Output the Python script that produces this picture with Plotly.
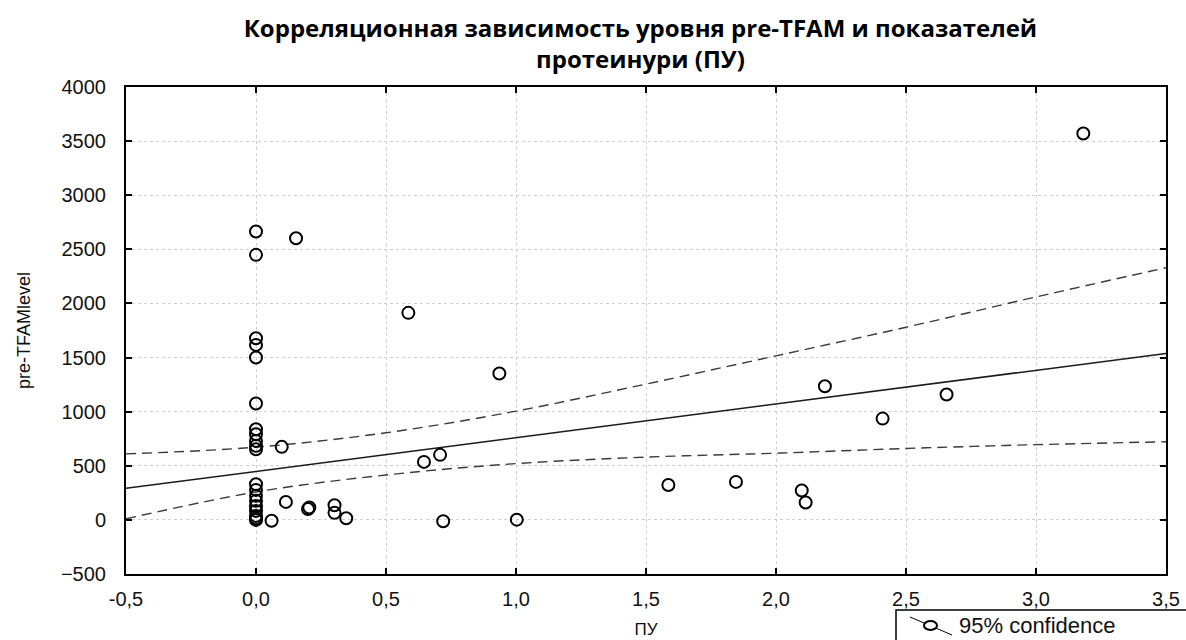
import plotly.graph_objects as go

# Proteinuria (ПУ) and pre-TFAM level per patient
pu = [0.0, 0.0, 0.0, 0.0, 0.0, 0.0, 0.0, 0.0, 0.0, 0.0,
      0.0, 0.0, 0.0, 0.0, 0.0, 0.0, 0.0, 0.0, 0.0, 0.0,
      0.154, 0.099, 0.115, 0.200, 0.205, 0.060, 0.302, 0.302, 0.347,
      0.646, 0.708, 0.720, 1.003, 0.586, 0.936, 1.586, 1.846,
      2.099, 2.114, 2.188, 2.410, 2.656, 3.182]
tfam = [2665, 2449, 1679, 1617, 1500, 1075, 838, 792, 730, 684,
        653, 330, 277, 222, 176, 129, 83, 37, 15, 0,
        2603, 675, 166, 100, 115, -8, 135, 65, 15,
        536, 601, -12, 2, 1913, 1352, 323, 351,
        271, 160, 1235, 936, 1158, 3570]

# Linear fit and its 95% confidence band
fit_x = [-0.5, 3.5]
fit_y = [292, 1538]
band_x = [-0.5, 0.0, 0.5, 1.0, 1.5, 2.0, 2.5, 3.0, 3.5]
band_upper = [610, 672, 805, 1005, 1255, 1516, 1780, 2060, 2330]
band_lower = [10, 258, 415, 520, 580, 616, 660, 695, 722]

x_ticks = [-0.5, 0.0, 0.5, 1.0, 1.5, 2.0, 2.5, 3.0, 3.5]
x_tick_text = ["-0,5", "0,0", "0,5", "1,0", "1,5", "2,0", "2,5", "3,0", "3,5"]
y_ticks = [-500, 0, 500, 1000, 1500, 2000, 2500, 3000, 3500, 4000]
legend_label = "95% confidence"

AX_FONT = "Liberation Sans, Arial, sans-serif"
W, H = 1186, 640
ML, MR, MT, MB = 126, 20, 87, 66
PW, PH = W - ML - MR, H - MT - MB


def px(x):
    # horizontal pixel -> paper fraction
    return (x - ML) / PW


def py(y):
    # vertical pixel (from top) -> paper fraction
    return (H - MB - y) / PH


fig = go.Figure()

dash_style = dict(color="#3a3a3a", width=1.4, dash="10px,6px")
fig.add_trace(go.Scatter(x=band_x, y=band_upper, mode="lines", line=dash_style,
                         line_shape="spline", showlegend=False, hoverinfo="skip"))
fig.add_trace(go.Scatter(x=band_x, y=band_lower, mode="lines", line=dash_style,
                         line_shape="spline", showlegend=False, hoverinfo="skip"))
fig.add_trace(go.Scatter(x=fit_x, y=fit_y, mode="lines",
                         line=dict(color="#1a1a1a", width=1.5),
                         showlegend=False, hoverinfo="skip"))
fig.add_trace(go.Scatter(
    x=pu, y=tfam, mode="markers", showlegend=False,
    marker=dict(symbol="circle-open", size=12, color="black",
                line=dict(color="black", width=2)),
))

axis_common = dict(
    showline=True, linecolor="black", linewidth=2, mirror="ticks",
    ticks="inside", ticklen=6, tickcolor="black", tickwidth=1.5,
    showgrid=True, gridcolor="#cfcfcf", gridwidth=1, griddash="dot",
    zeroline=False, automargin=False,
    tickfont=dict(family=AX_FONT, size=20, color="#111"),
)

# legend box in the lower right corner, running off the page edge
shapes = [
    dict(type="rect", xref="paper", yref="paper",
         x0=px(896), x1=px(1200), y0=py(610), y1=py(660),
         line=dict(color="black", width=1.5), fillcolor="white", layer="above"),
    dict(type="line", xref="paper", yref="paper",
         x0=px(910), x1=px(952), y0=py(617), y1=py(635),
         line=dict(color="black", width=1), layer="above"),
    dict(type="circle", xref="paper", yref="paper",
         x0=px(924), x1=px(937), y0=py(621), y1=py(630),
         line=dict(color="black", width=2), fillcolor="white", layer="above"),
]

fig.update_layout(
    width=W, height=H,
    margin=dict(l=ML, r=MR, t=MT, b=MB, autoexpand=False),
    paper_bgcolor="white", plot_bgcolor="white",
    showlegend=False,
    title=dict(
        text="Корреляционная зависимость уровня pre-TFAM и показателей<br>протеинури (ПУ)",
        font=dict(family="Open Sans, sans-serif", size=24, color="black", weight="bold"),
        x=0.54, xanchor="center", y=0.942, yanchor="middle",
    ),
    xaxis=dict(
        range=[-0.5, 3.5], tickvals=x_ticks, ticktext=x_tick_text,
        ticklabelstandoff=6,
        title=dict(text="ПУ", font=dict(family=AX_FONT, size=17, color="#111"), standoff=14),
        **axis_common,
    ),
    yaxis=dict(
        range=[-500, 4000], tickvals=y_ticks,
        ticklabelstandoff=14,
        title=dict(text="pre-TFAMlevel", font=dict(family=AX_FONT, size=18, color="#111"), standoff=26),
        **axis_common,
    ),
    shapes=shapes,
    annotations=[
        dict(text=legend_label, xref="paper", yref="paper",
             x=px(957), y=py(625), xanchor="left", yanchor="middle",
             showarrow=False, font=dict(family=AX_FONT, size=22, color="#111")),
    ],
)

fig.write_html("out.html")
